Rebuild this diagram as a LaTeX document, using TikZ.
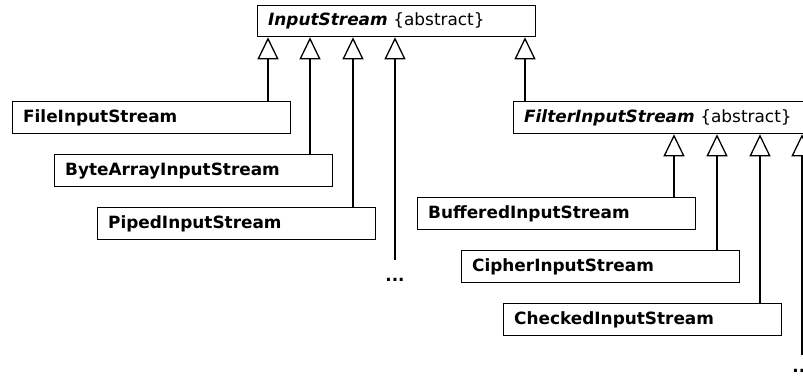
\documentclass[tikz,border=0pt]{standalone}
\usepackage{fontspec}
\setmainfont{DejaVu Sans}
\usetikzlibrary{arrows.meta}
\begin{document}
\begin{tikzpicture}[x=1pt,y=-1pt,
  cls/.style={draw, line width=1.3pt, fill=white, anchor=north west, inner xsep=10.5pt, inner ysep=0pt,
    minimum height=32pt, text width=257pt, align=left, font=\fontsize{16.9}{18}\selectfont\bfseries},
  inh/.style={line width=1.3pt, -{Triangle[open, width=21pt, length=22pt, fill=white, line width=1.3pt]}},
  dotsty/.style={inner sep=0pt, font=\fontsize{16.9}{18}\selectfont\bfseries},
]
\clip (0,0) rectangle (803,380);
\fill[white] (0,0) rectangle (803,380);
% abstract classes
\node[cls, minimum height=31pt] (is) at (257,5) {\textit{InputStream} \mdseries\{abstract\}};
\node[cls, text width=290pt] (fil) at (513,101) {\textit{FilterInputStream} \mdseries\{abstract\}};
% concrete classes
\node[cls] (fis)  at (12,101) {FileInputStream};
\node[cls] (bais) at (54,154) {ByteArrayInputStream};
\node[cls] (pis)  at (97,207) {PipedInputStream};
\node[cls] (bis)  at (417,197) {BufferedInputStream};
\node[cls] (cis)  at (461,250) {CipherInputStream};
\node[cls] (chk)  at (503,303) {CheckedInputStream};
% ellipses
\node[dotsty] (d1) at (395,280) {...};
\node[dotsty] (d2) at (802,371) {...};
\coordinate (e1) at (395,260);
\coordinate (e2) at (802,355);
% arrow targets
\coordinate (a1) at (268,0);
\coordinate (a2) at (310,0);
\coordinate (a3) at (353,0);
\coordinate (a4) at (395,0);
\coordinate (a5) at (525,0);
\coordinate (b1) at (674,0);
\coordinate (b2) at (717,0);
\coordinate (b3) at (760,0);
\coordinate (b4) at (802,0);
% generalisations
\draw[inh] (fis.north -| a1) -- (is.south -| a1);
\draw[inh] (bais.north -| a2) -- (is.south -| a2);
\draw[inh] (pis.north -| a3) -- (is.south -| a3);
\draw[inh] (e1) -- (is.south -| a4);
\draw[inh] (fil.north -| a5) -- (is.south -| a5);
\draw[inh] (bis.north -| b1) -- (fil.south -| b1);
\draw[inh] (cis.north -| b2) -- (fil.south -| b2);
\draw[inh] (chk.north -| b3) -- (fil.south -| b3);
\draw[inh] (e2) -- (fil.south -| b4);
\end{tikzpicture}
\end{document}
